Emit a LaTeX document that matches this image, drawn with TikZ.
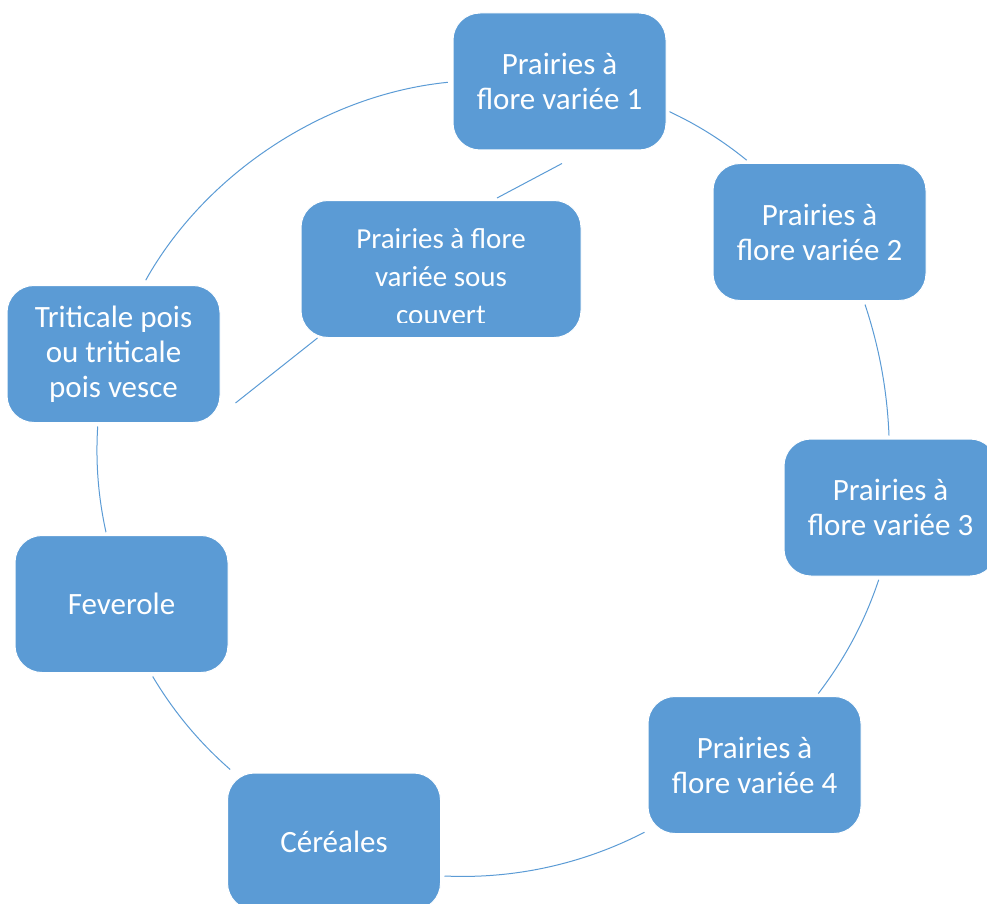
\documentclass[tikz,border=0pt]{standalone}
\usepackage{fontspec}
\setmainfont{Carlito}
\usetikzlibrary{calc}
\definecolor{boxblue}{HTML}{5B9BD5}

\begin{document}
\begin{tikzpicture}[x=1pt,y=-1pt,
	box/.style={draw=white, line width=1pt, fill=boxblue, rounded corners=27pt,
		minimum width=213pt, minimum height=137pt, inner sep=0pt,
		text=white, align=center, font=\fontsize{31}{35}\selectfont},
	link/.style={draw=boxblue, line width=1pt},
	cycle/.style={link, looseness=0.87}]
	\useasboundingbox (0,0) rectangle (987,904);
	\clip (0,0) rectangle (987,904);
	% boxes of the rotation
	\node[box] (p1) at (559.5,81.5) {Prairies à\\flore variée 1};
	\node[box] (p2) at (819.5,232) {Prairies à\\flore variée 2};
	\node[box] (p3) at (890.5,507.5) {Prairies à\\flore variée 3};
	\node[box] (p4) at (754.5,765) {Prairies à\\flore variée 4};
	\node[box] (p5) at (334,841.5) {Céréales};
	\node[box] (p6) at (121.5,604) {Feverole};
	\node[box] (p7) at (113.5,354) {Triticale pois\\ou triticale\\pois vesce};
	\node[box, minimum width=280pt] (p8) at (441,269) {};
	\begin{scope}
		\clip (301,200) rectangle (581,322.5);
		\node[text=white, align=center, font=\fontsize{29}{38}\selectfont] (p8text) at (441,276.5) {Prairies à flore\\variée sous\\couvert};
	\end{scope}
	% ends of the arcs
	\coordinate (c12) at ($(p1.east)+(3,30.2)$);
	\coordinate (c21) at ($(p2.north)+(-72.8,-2.8)$);
	\coordinate (c23) at ($(p2.south)+(45.5,3.5)$);
	\coordinate (c32) at ($(p3.north)+(-1.5,-3)$);
	\coordinate (c34) at ($(p3.south)+(-11.8,3.3)$);
	\coordinate (c43) at ($(p4.north)+(63.8,-2.5)$);
	\coordinate (c45) at ($(p4.south west)+(-3,-1.8)$);
	\coordinate (c54) at ($(p5.east)+(3.5,34.5)$);
	\coordinate (c56) at ($(p5.north west)+(3.2,-3)$);
	\coordinate (c65) at ($(p6.south)+(31.2,3.5)$);
	\coordinate (c67) at ($(p6.north)+(-15.5,-2.8)$);
	\coordinate (c76) at ($(p7.south)+(-15.8,3.5)$);
	\coordinate (c71) at ($(p7.north)+(32.2,-4.8)$);
	\coordinate (c17) at ($(p1.west)+(-4.7,0.8)$);
	% arcs
	\draw[cycle] (c12) to[bend left=7] (c21);
	\draw[cycle] (c23) to[bend left=8] (c32);
	\draw[cycle] (c34) to[bend left=9.5] (c43);
	\draw[cycle] (c45) to[bend left=15] (c54);
	\draw[cycle] (c56) to[bend left=9] (c65);
	\draw[cycle] (c67) to[bend left=8] (c76);
	\draw[cycle] (c71) to[bend left=27.5] (c17);
	% inner path
	\coordinate (a7) at ($(p7.south east)+(15,-20)$);
	\coordinate (a8) at ($(p8.south west)+(17,0)$);
	\coordinate (b8) at ($(p8.north)+(56,-2)$);
	\coordinate (b1) at ($(p1.south)+(2.5,13)$);
	\draw[link] (a7) -- (a8);
	\draw[link] (b8) -- (b1);
\end{tikzpicture}
\end{document}
